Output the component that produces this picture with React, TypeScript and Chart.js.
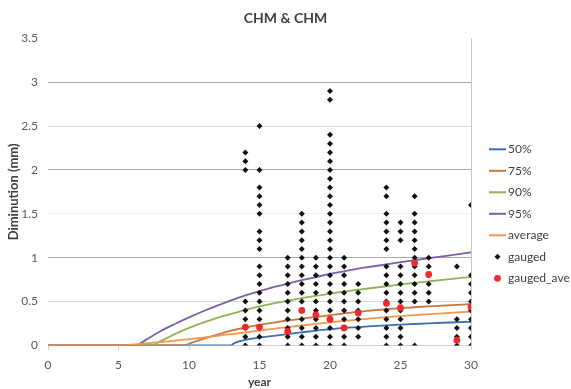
import React, { useEffect, useRef } from 'react';
import { Chart, registerables } from 'chart.js';

Chart.register(...registerables);

const FONT = 'Lato, "Open Sans", "DejaVu Sans", sans-serif';

// ---- text ----
const chartTitle = 'CHM & CHM';
const xTitle = 'year';
const yTitle = 'Diminution (mm)';
const seriesNames = ['50%', '75%', '90%', '95%', 'average', 'gauged', 'gauged_ave'];

// ---- axis ticks ----
const xTicks = [0, 5, 10, 15, 20, 25, 30];
const yTicks = [0, 0.5, 1, 1.5, 2, 2.5, 3, 3.5];

// ---- curves (year, diminution); each is 0 from year 0 up to its first year ----
const p50X = [13.0, 13.2, 13.6, 14, 15, 16, 17, 18, 19, 20, 21, 22, 23, 24, 25, 26, 27, 28, 29, 30];
const p50Y = [0, 0.025, 0.05, 0.065, 0.09, 0.11, 0.13, 0.15, 0.17, 0.185, 0.2, 0.21, 0.22, 0.23, 0.238, 0.245, 0.252, 0.259, 0.265, 0.27];

const p75X = [9.7, 10, 11, 12, 13, 14, 15, 16, 17, 18, 19, 20, 21, 22, 23, 24, 25, 26, 27, 28, 29, 30];
const p75Y = [0, 0.02, 0.075, 0.125, 0.17, 0.205, 0.235, 0.26, 0.285, 0.305, 0.325, 0.345, 0.365, 0.385, 0.4, 0.413, 0.425, 0.436, 0.446, 0.455, 0.463, 0.47];

const p90X = [7.4, 8, 9, 10, 11, 12, 13, 14, 15, 16, 17, 18, 19, 20, 21, 22, 23, 24, 25, 26, 27, 28, 29, 30];
const p90Y = [0, 0.05, 0.13, 0.2, 0.26, 0.315, 0.36, 0.405, 0.445, 0.48, 0.51, 0.54, 0.565, 0.59, 0.615, 0.635, 0.655, 0.675, 0.695, 0.715, 0.73, 0.748, 0.765, 0.78];

const p95X = [6.3, 7, 8, 9, 10, 11, 12, 13, 14, 15, 16, 17, 18, 19, 20, 21, 22, 23, 24, 25, 26, 27, 28, 29, 30];
const p95Y = [0, 0.07, 0.165, 0.245, 0.32, 0.39, 0.455, 0.515, 0.57, 0.62, 0.665, 0.705, 0.745, 0.78, 0.815, 0.845, 0.875, 0.9, 0.925, 0.95, 0.972, 0.994, 1.016, 1.038, 1.06];

const avgX = [5.3, 6, 7, 8, 9, 10, 11, 12, 13, 14, 15, 16, 17, 18, 19, 20, 21, 22, 23, 24, 25, 26, 27, 28, 29, 30];
const avgY = [0, 0.01, 0.025, 0.04, 0.055, 0.072, 0.09, 0.11, 0.13, 0.15, 0.17, 0.19, 0.21, 0.228, 0.246, 0.264, 0.28, 0.295, 0.31, 0.323, 0.335, 0.346, 0.357, 0.367, 0.377, 0.386];

// ---- gauged measurements ----
const gaugedYears = [14, 15, 17, 18, 19, 20, 21, 22, 24, 25, 26, 27, 29, 30];
const gaugedValues: number[][] = [
  [2.2, 2.1, 2.0, 0.5, 0.4, 0.3, 0.2, 0.1, 0],
  [2.5, 2.0, 1.8, 1.7, 1.6, 1.5, 1.3, 1.2, 1.1, 0.9, 0.8, 0.7, 0.6, 0.5, 0.4, 0.3, 0.2, 0.1, 0],
  [1.0, 0.9, 0.8, 0.7, 0.6, 0.5, 0.4, 0.3, 0.2, 0.1, 0],
  [1.5, 1.4, 1.3, 1.2, 1.1, 1.0, 0.9, 0.8, 0.7, 0.6, 0.5, 0.4, 0.3, 0.2, 0.1, 0],
  [1.0, 0.9, 0.8, 0.7, 0.6, 0.5, 0.4, 0.3, 0.2, 0.1, 0],
  [2.9, 2.8, 2.4, 2.3, 2.2, 2.1, 2.0, 1.9, 1.8, 1.7, 1.6, 1.5, 1.4, 1.3, 1.2, 1.1, 1.0, 0.9, 0.8, 0.7, 0.6, 0.5, 0.4, 0.3, 0.2, 0.1, 0],
  [1.0, 0.9, 0.8, 0.7, 0.6, 0.5, 0.4, 0.3, 0.2, 0.1, 0],
  [0.7, 0.6, 0.5, 0.4, 0.3, 0.2, 0.1],
  [1.8, 1.7, 1.5, 1.4, 1.3, 1.2, 1.1, 0.9, 0.8, 0.7, 0.6, 0.5, 0.4, 0.3, 0.2, 0.1, 0],
  [1.4, 1.3, 1.2, 0.9, 0.8, 0.7, 0.6, 0.5, 0.4, 0.3, 0.2, 0.1, 0],
  [1.7, 1.5, 1.4, 1.3, 1.2, 1.1, 1.0, 0.9, 0.8, 0.7, 0.6, 0.5, 0],
  [1.0, 0.9, 0.8, 0.7, 0.6, 0.5],
  [0.9, 0.3, 0.2, 0.1, 0],
  [1.6, 0.8, 0.7, 0.6, 0.5, 0.4, 0.3, 0.2, 0.1, 0],
];
const gaugedAveYears = [14, 15, 17, 18, 19, 20, 21, 22, 24, 25, 26, 27, 29, 30];
const gaugedAveValues = [0.21, 0.21, 0.16, 0.4, 0.35, 0.3, 0.2, 0.37, 0.48, 0.43, 0.94, 0.81, 0.06, 0.44];

const COLORS = {
  p50: '#3F6FAE',
  p75: '#C4773F',
  p90: '#8FB357',
  p95: '#7A60A8',
  avg: '#F5964E',
  gauged: '#111111',
  gaugedAve: '#EE2A2A',
};

const pairs = (xs: number[], ys: number[]) => xs.map((x, i) => ({ x, y: ys[i] }));

const sideLegend = {
  id: 'sideLegend',
  afterDraw(chart: any) {
    const { ctx, chartArea } = chart;
    const x0 = chartArea.right + 18;
    const lineLen = 17;
    let y = chartArea.top + 111;
    ctx.save();
    ctx.font = `12px ${FONT}`;
    ctx.textBaseline = 'middle';
    ctx.textAlign = 'left';
    chart.data.datasets.forEach((ds: any) => {
      if (ds.noLegend) return;
      if (ds.showLine !== false) {
        ctx.strokeStyle = ds.borderColor;
        ctx.lineWidth = 2;
        ctx.beginPath();
        ctx.moveTo(x0, y);
        ctx.lineTo(x0 + lineLen, y);
        ctx.stroke();
      } else {
        const cx = x0 + lineLen / 2;
        const r = ds.pointRadius;
        ctx.fillStyle = ds.backgroundColor;
        ctx.beginPath();
        if (ds.pointStyle === 'rectRot') {
          ctx.moveTo(cx, y - r);
          ctx.lineTo(cx + r, y);
          ctx.lineTo(cx, y + r);
          ctx.lineTo(cx - r, y);
          ctx.closePath();
        } else {
          ctx.arc(cx, y, r, 0, Math.PI * 2);
        }
        ctx.fill();
      }
      ctx.fillStyle = '#404040';
      ctx.fillText(ds.label, x0 + lineLen + 2, y);
      y += 21.5;
    });
    ctx.restore();
  },
};

export default function App() {
  const canvasRef = useRef<HTMLCanvasElement | null>(null);

  useEffect(() => {
    if (!canvasRef.current) return;
    const lineDs = (label: string, xs: number[], ys: number[], color: string, order: number) => ({
      type: 'line' as const,
      label,
      data: pairs(xs, ys),
      borderColor: color,
      backgroundColor: color,
      borderWidth: 1.8,
      pointRadius: 0,
      pointHoverRadius: 0,
      showLine: true,
      cubicInterpolationMode: 'monotone' as const,
      order,
    });
    // flat zero part of a curve, before it starts rising
    const flatDs = (label: string, xs: number[], ys: number[], color: string, order: number) => ({
      ...lineDs(label, [xTicks[0], xs[0]], [ys[0], ys[0]], color, order),
      noLegend: true,
    });

    const gaugedPoints: { x: number; y: number }[] = [];
    gaugedYears.forEach((yr, i) => gaugedValues[i].forEach((v) => gaugedPoints.push({ x: yr, y: v })));

    const chart = new Chart(canvasRef.current, {
      type: 'line',
      data: {
        datasets: [
          lineDs(seriesNames[0], p50X, p50Y, COLORS.p50, 6),
          lineDs(seriesNames[1], p75X, p75Y, COLORS.p75, 5),
          lineDs(seriesNames[2], p90X, p90Y, COLORS.p90, 4),
          lineDs(seriesNames[3], p95X, p95Y, COLORS.p95, 3),
          lineDs(seriesNames[4], avgX, avgY, COLORS.avg, 2),
          {
            label: seriesNames[5],
            data: gaugedPoints,
            showLine: false,
            pointStyle: 'rectRot',
            pointRadius: 3,
            pointBorderWidth: 0,
            borderWidth: 0,
            backgroundColor: COLORS.gauged,
            borderColor: COLORS.gauged,
            order: 1,
          } as any,
          {
            label: seriesNames[6],
            data: pairs(gaugedAveYears, gaugedAveValues),
            showLine: false,
            pointStyle: 'circle',
            pointRadius: 3.4,
            pointBorderWidth: 0,
            borderWidth: 0,
            backgroundColor: COLORS.gaugedAve,
            borderColor: COLORS.gaugedAve,
            order: 0,
          } as any,
          flatDs(seriesNames[0], p50X, p50Y, COLORS.p50, 6),
          flatDs(seriesNames[1], p75X, p75Y, COLORS.p75, 5),
          flatDs(seriesNames[2], p90X, p90Y, COLORS.p90, 4),
          flatDs(seriesNames[3], p95X, p95Y, COLORS.p95, 3),
          flatDs(seriesNames[4], avgX, avgY, COLORS.avg, 2),
        ],
      },
      options: {
        responsive: false,
        animation: false,
        devicePixelRatio: 1,
        layout: { padding: 0 },
        plugins: {
          legend: { display: false },
          tooltip: { enabled: false },
          title: {
            display: true,
            text: chartTitle,
            color: '#404040',
            font: { family: FONT, size: 14, weight: 'bold', lineHeight: 1.2 },
            padding: { top: 10, bottom: 11.5 },
          },
        },
        scales: {
          x: {
            type: 'linear',
            min: xTicks[0],
            max: xTicks[xTicks.length - 1],
            afterFit: (scale: any) => {
              scale.height = 43.5;
            },
            ticks: {
              stepSize: xTicks[1] - xTicks[0],
              color: '#595959',
              font: { family: FONT, size: 12 },
              padding: 8,
              maxRotation: 0,
            },
            grid: {
              drawOnChartArea: true,
              color: (c: any) => (c.tick && c.tick.value === xTicks[xTicks.length - 1] ? '#C8C8C8' : 'rgba(0,0,0,0)'),
              tickColor: '#D0D0D0',
              tickLength: 4,
              lineWidth: 1,
            },
            border: { display: true, color: '#D0D0D0' },
            title: {
              display: true,
              text: xTitle,
              color: '#404040',
              font: { family: FONT, size: 12, weight: 'bold', lineHeight: 1.2 },
              padding: { top: 4, bottom: 0 },
            },
          },
          y: {
            type: 'linear',
            min: yTicks[0],
            max: yTicks[yTicks.length - 1],
            afterFit: (scale: any) => {
              scale.width = 48;
            },
            ticks: {
              stepSize: yTicks[1] - yTicks[0],
              color: '#595959',
              font: { family: FONT, size: 12 },
              padding: 10,
              callback: (v: any) => String(Number(v)),
            },
            grid: {
              drawTicks: false,
              color: (c: any) => {
                const v = c.tick ? c.tick.value : -1;
                if (v === 3.5) return 'rgba(0,0,0,0)';
                if (v === 0) return '#D0D0D0';
                if (v === 1.5) return '#F0F0F0';
                if (Number.isInteger(v)) return '#A8A8A8';
                return '#D9D9D9';
              },
              lineWidth: 1,
            },
            border: { display: false },
            title: {
              display: true,
              text: yTitle,
              color: '#404040',
              font: { family: FONT, size: 13, weight: 'bold', lineHeight: 1.2 },
              padding: { top: 6, bottom: 0 },
            },
          },
          legendSpace: {
            type: 'linear',
            position: 'right',
            display: true,
            afterFit: (scale: any) => {
              scale.width = 100;
            },
            ticks: { display: false },
            grid: { display: false, drawTicks: false },
            border: { display: false },
            title: { display: false },
          },
        },
      } as any,
      plugins: [sideLegend],
    });
    return () => chart.destroy();
  }, []);

  return (
    <div style={{ position: 'absolute', left: 0, top: 0, width: 571, height: 389, background: '#fff' }}>
      <canvas ref={canvasRef} width={571} height={389} style={{ display: 'block', width: 571, height: 389 }} />
    </div>
  );
}
